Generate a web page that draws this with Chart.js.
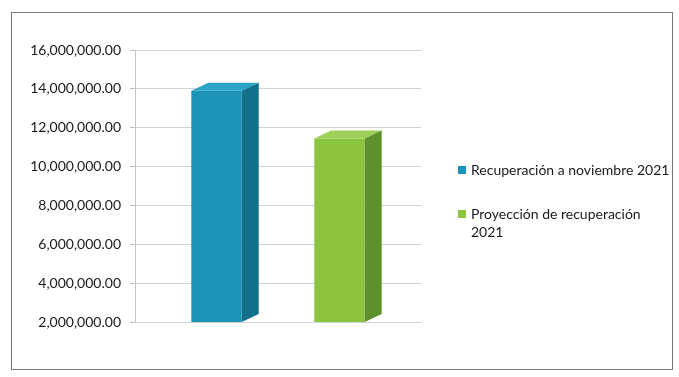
<!DOCTYPE html>
<html>
<head>
<meta charset="utf-8">
<script src="https://cdn.jsdelivr.net/npm/chart.js@4.4.1/dist/chart.umd.min.js"></script>
<style>
  html, body { margin: 0; padding: 0; background: #ffffff; }
  #wrap { position: absolute; left: 0; top: 0; width: 679px; height: 377px; }
</style>
</head>
<body>
<div id="wrap"><canvas id="c" width="679" height="377"></canvas></div>
<script>
// ---- data ----
const categories = [''];
const seriesNames = ['Recuperación a noviembre 2021', 'Proyección de recuperación 2021'];
const legendLines = [['Recuperación a noviembre 2021'], ['Proyección de recuperación', '2021']];
const recuperacion = [13900000];
const proyeccion = [11450000];
const yTicks = [2000000, 4000000, 6000000, 8000000, 10000000, 12000000, 14000000, 16000000];

// ---- styles ----
const frontColors = ['#1b93b6', '#8bc43f'];
const sideColors = ['#12708b', '#5e902b'];
const topColors = ['#2ba5c7', '#9dd057'];
const FONT = 'Lato, "Open Sans", "DejaVu Sans", sans-serif';

const bar3d = {
  id: 'bar3d',
  afterDatasetsDraw(chart) {
    const ctx = chart.ctx;
    const dx = 17, dy = 8;
    const bottom = chart.chartArea.bottom;
    chart.data.datasets.forEach((ds, i) => {
      const meta = chart.getDatasetMeta(i);
      meta.data.forEach(el => {
        const p = el.getProps(['x', 'y', 'base', 'width'], true);
        const base = Math.min(p.base, bottom);
        const L = p.x - p.width / 2, R = p.x + p.width / 2;
        ctx.save();
        ctx.fillStyle = topColors[i];
        ctx.beginPath();
        ctx.moveTo(L, p.y); ctx.lineTo(R, p.y); ctx.lineTo(R + dx, p.y - dy); ctx.lineTo(L + dx, p.y - dy);
        ctx.closePath(); ctx.fill();
        ctx.fillStyle = sideColors[i];
        ctx.beginPath();
        ctx.moveTo(R, p.y); ctx.lineTo(R + dx, p.y - dy); ctx.lineTo(R + dx, base - dy); ctx.lineTo(R, base);
        ctx.closePath(); ctx.fill();
        ctx.restore();
      });
    });
  }
};

const frameAndLegend = {
  id: 'frameAndLegend',
  beforeDraw(chart) {
    const ctx = chart.ctx;
    ctx.save();
    ctx.fillStyle = '#ffffff';
    ctx.fillRect(0, 0, chart.width, chart.height);
    ctx.strokeStyle = '#7a7a7a';
    ctx.lineWidth = 1;
    ctx.strokeRect(11.5, 12.5, 661, 357);
    ctx.restore();
  },
  afterDraw(chart) {
    const ctx = chart.ctx;
    ctx.save();
    ctx.font = '14px ' + FONT;
    ctx.textBaseline = 'middle';
    const starts = [170, 214];
    legendLines.forEach((lines, i) => {
      const y0 = starts[i];
      ctx.fillStyle = frontColors[i];
      ctx.fillRect(458, y0 - 4, 8, 8);
      ctx.fillStyle = '#1a1a1a';
      lines.forEach((t, j) => ctx.fillText(t, 471, y0 + j * 18));
    });
    ctx.restore();
  }
};

new Chart(document.getElementById('c'), {
  type: 'bar',
  data: {
    labels: categories,
    datasets: [
      { label: seriesNames[0], data: recuperacion, backgroundColor: frontColors[0] },
      { label: seriesNames[1], data: proyeccion, backgroundColor: frontColors[1] }
    ]
  },
  options: {
    responsive: false,
    animation: false,
    events: [],
    layout: { padding: { top: 50, bottom: 377 - 322, left: 0, right: 679 - 421 } },
    datasets: { bar: { categoryPercentage: 0.86, barPercentage: 0.41 } },
    plugins: { legend: { display: false }, tooltip: { enabled: false } },
    scales: {
      x: { display: false },
      y: {
        min: 2000000, max: 16000000,
        afterFit(scale) { scale.width = 135; },
        afterBuildTicks(scale) { scale.ticks = yTicks.map(v => ({ value: v })); },
        border: { display: true, color: '#c4c4c4' },
        grid: { color: '#d2d2d2', tickLength: 5, tickColor: '#bdbdbd' },
        ticks: {
          padding: 9,
          color: '#1a1a1a',
          font: { family: FONT, size: 14 },
          callback: v => Number(v).toLocaleString('en-US', { minimumFractionDigits: 2, maximumFractionDigits: 2 })
        }
      }
    }
  },
  plugins: [frameAndLegend, bar3d]
});
</script>
</body>
</html>
